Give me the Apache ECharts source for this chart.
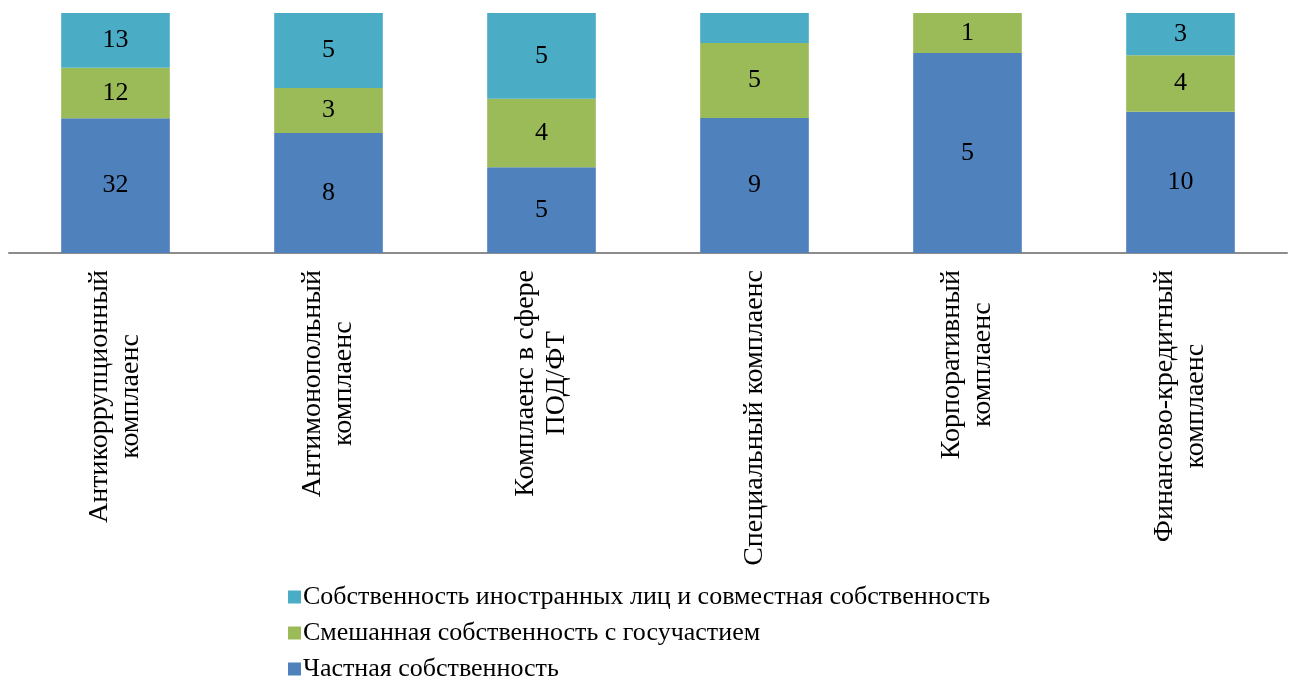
<!DOCTYPE html>
<html>
<head>
<meta charset="utf-8">
<script src="https://cdn.jsdelivr.net/npm/echarts@6/dist/echarts.min.js"></script>
<style>
  html, body { margin: 0; padding: 0; background: #fff; }
  #chart { width: 1292px; height: 680px; }
</style>
</head>
<body>
<div id="chart"></div>
<script>
// Compliance types (two-line captions under the axis)
const categories = [
  'Антикоррупционный\nкомплаенс',
  'Антимонопольный\nкомплаенс',
  'Комплаенс в сфере\nПОД/ФТ',
  'Специальный комплаенс',
  'Корпоративный\nкомплаенс',
  'Финансово-кредитный\nкомплаенс'
];

// Counts by form of ownership
const privateVals = [32, 8, 5, 9, 5, 10];
const mixedVals   = [12, 3, 4, 5, 1, 4];
const foreignVals = [13, 5, 5, 2, 0, 3];

// Which foreign-ownership counts carry a printed label
const foreignLabelShown = [true, true, true, false, false, true];

const seriesNames = [
  'Частная собственность',
  'Смешанная собственность с госучастием',
  'Собственность иностранных лиц и совместная собственность'
];

const totals = categories.map((_, i) => privateVals[i] + mixedVals[i] + foreignVals[i]);

function toShares(vals, shown) {
  return vals.map((v, i) => ({
    value: v / totals[i] * 100,
    raw: v,
    label: { show: v > 0 && (shown ? shown[i] : true) }
  }));
}

const FONT = '"Liberation Serif", "Times New Roman", serif';

const labelCfg = {
  show: true,
  position: 'inside',
  color: '#000',
  fontFamily: FONT,
  fontSize: 26,
  formatter: p => String(p.data.raw)
};

const chart = echarts.init(document.getElementById('chart'), null, { renderer: 'canvas' });

chart.setOption({
  animation: false,
  backgroundColor: '#fff',
  grid: { left: 9, right: 5, top: 13, height: 240, containLabel: false },
  xAxis: {
    type: 'category',
    data: categories,
    axisLine: { lineStyle: { color: '#8c8c8c', width: 2 } },
    axisTick: { show: false },
    axisLabel: {
      rotate: 90,
      margin: 17,
      interval: 0,
      color: '#000',
      fontFamily: FONT,
      fontSize: 28,
      lineHeight: 31,
      formatter: v => v.split('\n').map(s => '{c|' + s + '}').join('\n'),
      rich: {
        c: { align: 'center', fontFamily: FONT, fontSize: 28, lineHeight: 31, color: '#000' }
      }
    }
  },
  yAxis: {
    type: 'value',
    min: 0,
    max: 100,
    show: false,
    splitLine: { show: false }
  },
  legend: {
    orient: 'vertical',
    left: 283,
    top: 579,
    height: 110,
    itemWidth: 13,
    itemHeight: 13,
    itemGap: 10,
    icon: 'rect',
    data: [seriesNames[2], seriesNames[1], seriesNames[0]],
    textStyle: { color: '#000', fontFamily: FONT, fontSize: 26, padding: [0, 0, 0, -3] }
  },
  series: [
    {
      name: seriesNames[0],
      type: 'bar',
      stack: 'total',
      barWidth: '51%',
      itemStyle: { color: '#4F81BD' },
      label: labelCfg,
      data: toShares(privateVals)
    },
    {
      name: seriesNames[1],
      type: 'bar',
      stack: 'total',
      itemStyle: { color: '#9BBB59' },
      label: labelCfg,
      data: toShares(mixedVals)
    },
    {
      name: seriesNames[2],
      type: 'bar',
      stack: 'total',
      itemStyle: { color: '#4BACC6' },
      label: labelCfg,
      data: toShares(foreignVals, foreignLabelShown)
    }
  ]
});
</script>
</body>
</html>
